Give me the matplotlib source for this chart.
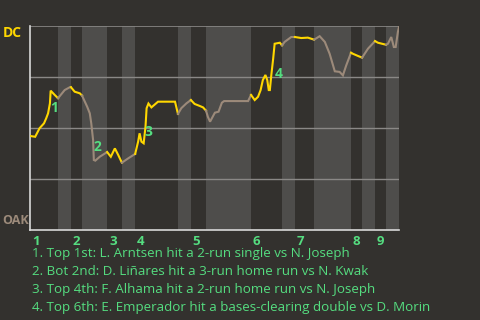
import numpy as np
import matplotlib
matplotlib.use("Agg")
import matplotlib.pyplot as plt

# game progress (0-100) and DC win probability (%)
progress = [0, 1.4, 2.6, 3.8, 4.4, 4.9, 5.4, 5.6, 6.7, 7.6,
            9.4, 10.8, 11.1, 12.1, 13.5, 14.1, 15.5, 16.2, 16.6, 17.1,
            17.3, 17.7, 18.9, 20.9, 21.9, 23.0, 23.9, 24.9, 26.6, 28.5,
            29.3, 29.7, 30.2, 30.8, 31.3, 31.6, 32.1, 32.9, 33.8, 34.7,
            39.3, 40.1, 41.0, 42.4, 43.6, 44.6, 46.0, 46.9, 47.7, 48.2,
            48.8, 49.3, 50.1, 51.1, 52.0, 52.6, 59.1, 59.9, 60.9, 61.8,
            62.5, 63.1, 63.8, 64.3, 64.7, 65.0, 65.4, 65.9, 66.3, 67.7,
            68.3, 69.0, 70.8, 71.8, 73.5, 75.3, 77.0, 78.5, 79.9, 81.2,
            82.6, 83.9, 84.8, 85.7, 87.0, 87.5, 88.9, 90.0, 91.6, 93.5,
            94.3, 96.5, 97.0, 97.9, 98.6, 99.1, 99.7, 100]
dc_wp = [46.1, 45.7, 49.9, 52.3, 54.8, 57.2, 62.1, 68.3, 66.2, 64.6,
         68.6, 70.0, 70.0, 67.8, 67.0, 65.9, 60.4, 57.2, 52.3, 44.1,
         34.3, 34.0, 35.9, 38.2, 35.9, 40.0, 36.8, 33.0, 35.1, 37.3,
         43.3, 47.4, 43.3, 42.5, 50.6, 59.7, 62.0, 60.1, 61.5, 62.9,
         62.9, 56.9, 59.7, 62.1, 63.7, 61.8, 60.8, 60.1, 58.5, 55.5,
         53.1, 54.8, 57.5, 58.0, 62.4, 63.2, 63.2, 66.2, 63.7, 65.3,
         68.6, 73.5, 76.0, 73.5, 68.6, 68.6, 76.0, 84.0, 91.3, 91.8,
         90.5, 92.2, 94.6, 94.6, 94.1, 94.3, 93.3, 95.0, 92.2, 86.4,
         77.8, 77.5, 75.8, 80.7, 86.9, 86.4, 85.3, 84.5, 88.9, 92.6,
         91.8, 90.8, 91.3, 94.6, 89.7, 89.7, 97.1, 99.5]

# half-inning boundaries (top 1st, bot 1st, top 2nd, ...)
half_edges = [0, 7.6, 11.1, 14.1, 20.9, 24.9, 28.5, 40.1, 43.6, 47.7,
              59.9, 68.3, 71.8, 77.0, 87.0, 90.0, 93.5, 96.5, 100]
innings = ['1', '2', '3', '4', '5', '6', '7', '8', '9']

# key plays
play_x = [6.5, 18.4, 32.2, 67.5]
play_y = [59.8, 40.7, 48.0, 76.5]
play_text = [
    "1. Top 1st: L. Arntsen hit a 2-run single vs N. Joseph",
    "2. Bot 2nd: D. Liñares hit a 3-run home run vs N. Kwak",
    "3. Top 4th: F. Alhama hit a 2-run home run vs N. Joseph",
    "4. Top 6th: E. Emperador hit a bases-clearing double vs D. Morin",
]

BG = '#33312e'
BAND = '#4e4d4b'
YELLOW = '#ffd700'
BROWN = '#9c8a7a'
GREEN = '#55dd80'

plt.rcParams['font.family'] = ['Open Sans', 'DejaVu Sans']

fig = plt.figure(figsize=(4.8, 3.2), dpi=100, facecolor=BG)
ax = fig.add_axes([30/480, 90/320, 369/480, 204/320])
ax.set_facecolor(BG)

x = np.array(progress)
y = np.array(dc_wp)
for i in range(len(half_edges) - 1):
    a, b = half_edges[i], half_edges[i + 1]
    if i % 2 == 1:
        ax.axvspan(a, b, color=BAND, lw=0, zorder=0)
    m = (x >= a - 1e-6) & (x <= b + 1e-6)
    ax.plot(x[m], y[m], color=YELLOW if i % 2 == 0 else BROWN,
            lw=1.5, zorder=3, solid_joinstyle='miter')

for g in [25, 50, 75]:
    ax.axhline(g, color='#8a8886', lw=1, zorder=1)
ax.axhline(100, color='#8a8886', lw=1.2, zorder=1)

ax.set_xlim(0, 100)
ax.set_ylim(0, 100)
ax.set_xticks([])
ax.set_yticks([])
for s in ['top', 'right']:
    ax.spines[s].set_visible(False)
for s in ['left', 'bottom']:
    ax.spines[s].set_color('#d8d8d8')
    ax.spines[s].set_linewidth(1.2)

for k, lab in enumerate(innings):
    ax.text(half_edges[2 * k] + 0.5, -2.5, lab, color=GREEN, fontsize=9.5,
            fontweight='bold', ha='left', va='top')

for k in range(len(play_x)):
    ax.text(play_x[k], play_y[k], str(k + 1), color=GREEN, fontsize=10,
            fontweight='bold', ha='center', va='center', zorder=4)

fig.text(3/480, 1 - 33/320, 'DC', color=YELLOW, fontsize=10,
         fontweight='bold', va='center')
fig.text(2/480, 1 - 220/320, 'OAK', color=BROWN, fontsize=9,
         fontweight='bold', va='center')

for k, t in enumerate(play_text):
    fig.text(32/480, 1 - (254 + 17.8 * k)/320, t, color=GREEN,
             fontsize=9.6, va='center')

fig.savefig('out.png', dpi=100, facecolor=BG)
